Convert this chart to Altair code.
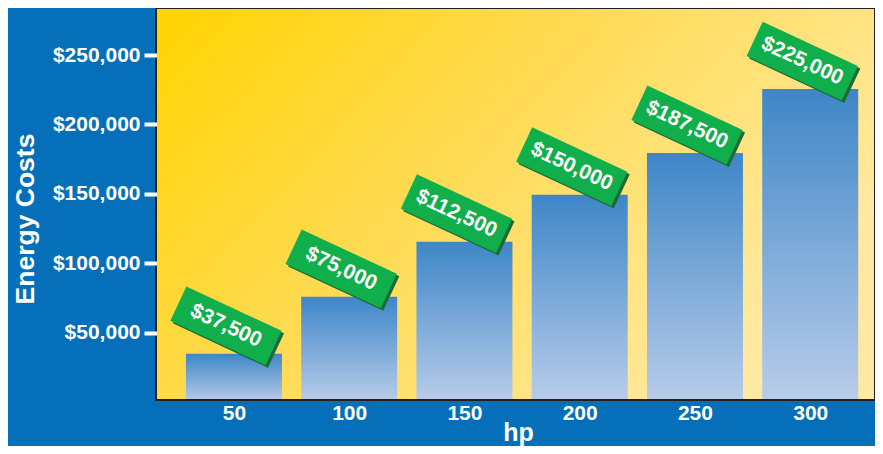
import altair as alt
import pandas as pd

# ---- data ----
hp = [50, 100, 150, 200, 250, 300]
cost = [35000, 76000, 115700, 149500, 179500, 225500]
tag_text = ["$37,500", "$75,000", "$112,500", "$150,000", "$187,500", "$225,000"]
y_ticks = [50000, 100000, 150000, 200000, 250000]

df = pd.DataFrame({"hp": hp, "cost": cost, "tag": tag_text})

FONT = "Liberation Sans"
BLUE_BG = "#0570B9"
GREEN = "#10AF4B"
GREEN_SHADOW = "#1B6B3A"

plot_fill = alt.LinearGradient(
    gradient="linear",
    stops=[
        alt.GradientStop(color="#FFD400", offset=0),
        alt.GradientStop(color="#FFDA4E", offset=0.45),
        alt.GradientStop(color="#FFE9A0", offset=1),
    ],
    x1=0, y1=0, x2=1, y2=0.5,
)

bar_fill = alt.LinearGradient(
    gradient="linear",
    stops=[
        alt.GradientStop(color="#3E86C7", offset=0),
        alt.GradientStop(color="#B9CDEA", offset=1),
    ],
    x1=0, y1=0, x2=0, y2=1,
)

x_scale = alt.Scale(domain=[18.8, 325.5], nice=False, zero=False)
x_enc = alt.X(
    "hp:Q",
    title="hp",
    scale=x_scale,
    axis=alt.Axis(
        values=hp, format="d", grid=False,
        labelAngle=0, labelFont=FONT, labelFontSize=21, labelFontWeight="bold",
        labelColor="white", labelPadding=3, ticks=False, domain=False,
        labelFlush=False,
        titleFont=FONT, titleFontSize=25, titleFontWeight="bold", titleColor="white",
        titleBaseline="alphabetic", titleY=41, titleX=361,
    ),
)
x_plain = alt.X("hp:Q", scale=x_scale)
y_enc = alt.Y(
    "cost:Q",
    title="Energy Costs",
    scale=alt.Scale(domain=[2500, 283100], nice=False, zero=False),
    axis=alt.Axis(
        values=y_ticks, format="$,.0f", grid=False, domain=False,
        offset=-10, tickSize=23, tickWidth=4, tickColor="white",
        labelFont=FONT, labelFontSize=21, labelFontWeight="bold", labelColor="white",
        labelPadding=4,
        titleFont=FONT, titleFontSize=26.5, titleFontWeight="bold", titleColor="white",
        titleBaseline="alphabetic", titleX=-133.5, titleY=209.5, titleAngle=270,
    ),
)
y_plain = alt.Y("cost:Q")

bg = alt.Chart(alt.Data(values=[{"k": 1}])).mark_rect(color=plot_fill).encode(
    x=alt.value(0), x2=alt.value("width"), y=alt.value(0), y2=alt.value("height")
)

bars = alt.Chart(df).mark_bar(color=bar_fill, clip=True, size=96).encode(
    x=x_enc, y=y_enc
)

TAG_SHAPE = "M-1,-0.362L1,-0.362L1,0.362L-1,0.362Z"
TAG_SIZE = 105 * 105

shadow = alt.Chart(df).mark_point(
    shape=TAG_SHAPE, size=TAG_SIZE, angle=25, filled=True, opacity=1,
    color=GREEN_SHADOW, strokeWidth=0, xOffset=-5.5, yOffset=-25.5,
).encode(x=x_plain, y=y_plain)

tags = alt.Chart(df).mark_point(
    shape=TAG_SHAPE, size=TAG_SIZE, angle=25, filled=True, opacity=1,
    color=GREEN, strokeWidth=0, xOffset=-8, yOffset=-28,
).encode(x=x_plain, y=y_plain)

texts = alt.Chart(df).mark_text(
    angle=25, font=FONT, fontSize=21, fontWeight="bold", color="white",
    align="center", baseline="middle", xOffset=-8, yOffset=-28,
).encode(x=x_plain, y=y_plain, text="tag:N")

chart = (
    alt.layer(bg, bars, shadow, tags, texts)
    .properties(
        width=717, height=390,
        padding={"left": 149, "top": 1, "right": 1, "bottom": 47},
        autosize=alt.AutoSizeParams(type="none"),
        background=BLUE_BG,
    )
    .configure_view(stroke="#231F20", strokeWidth=4)
)

chart.save("out.html", embed_options={"renderer": "svg", "actions": False})
